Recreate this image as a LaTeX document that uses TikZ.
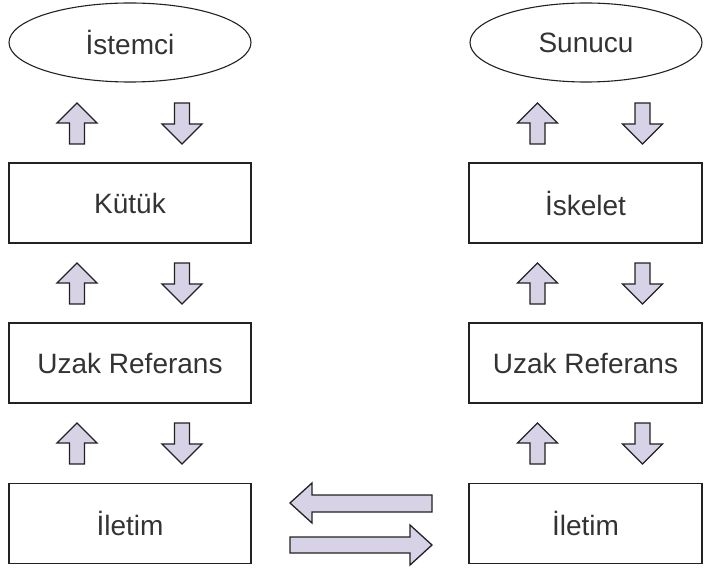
\documentclass[tikz,border=0pt]{standalone}
\usepackage{fontspec}
\setmainfont{Liberation Sans}
\definecolor{txtgray}{HTML}{333333}
\definecolor{arrfill}{HTML}{D8D2E6}
\definecolor{edge}{HTML}{222222}
\tikzset{
  lbl/.style={text=txtgray, font=\fontsize{28}{32}\selectfont},
  box/.style={lbl, draw=edge, line width=1.4pt, rectangle, minimum height=80pt, inner sep=0pt},
  oval/.style={lbl, draw=edge, line width=1.1pt, ellipse, inner sep=0pt},
  blockarrow/.style={draw=edge, fill=arrfill, line width=1.3pt, line join=miter},
}
\usetikzlibrary{shapes.geometric}
\newcommand\uparrowshape[2]{%
  \draw[blockarrow, shift={(#1,#2)}] (0,0) -- (20,20) -- (7.5,20) -- (7.5,41) -- (-7.5,41) -- (-7.5,20) -- (-20,20) -- cycle;}
\newcommand\downarrowshape[2]{%
  \draw[blockarrow, shift={(#1,#2)}] (0,41) -- (20,21) -- (7.5,21) -- (7.5,0) -- (-7.5,0) -- (-7.5,21) -- (-20,21) -- cycle;}
\begin{document}
\begin{tikzpicture}[x=1pt,y=-1pt]
\useasboundingbox (0,0) rectangle (704,572);
% top ovals
\node[oval, minimum width=242pt, minimum height=79pt] (istemci) at (130,42.5) {İstemci};
\node[oval, minimum width=232pt, minimum height=79pt] (sunucu) at (586,42.5) {Sunucu};
% left column boxes
\node[box, minimum width=242pt] (kutuk) at (130,203) {Kütük};
\node[box, minimum width=242pt] (uzakL) at (130,363) {Uzak Referans};
\node[box, minimum width=242pt] (iletimL) at (130,523.5) {İletim};
% right column boxes
\node[box, minimum width=233pt] (iskelet) at (585.5,203) {İskelet};
\node[box, minimum width=233pt] (uzakR) at (585.5,363) {Uzak Referans};
\node[box, minimum width=233pt] (iletimR) at (585.5,523.5) {İletim};
% vertical block arrows
\foreach \y in {103,263,423}{
  \uparrowshape{77}{\y}
  \downarrowshape{182}{\y}
  \uparrowshape{537.5}{\y}
  \downarrowshape{642.5}{\y}
}
% horizontal block arrows
\draw[blockarrow] (290,503) -- (312,483) -- (312,495) -- (432,495) -- (432,512) -- (312,512) -- (312,523) -- cycle;
\draw[blockarrow] (432,545) -- (410,525) -- (410,537) -- (290,537) -- (290,553) -- (410,553) -- (410,565) -- cycle;
\end{tikzpicture}
\end{document}
